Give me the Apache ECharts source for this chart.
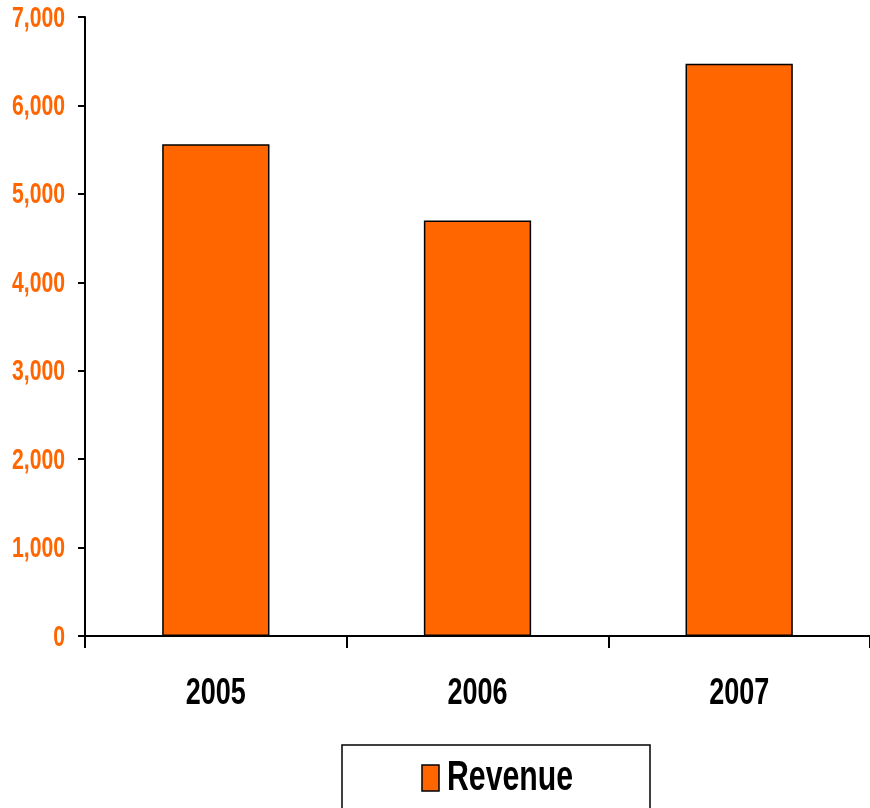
<!DOCTYPE html>
<html>
<head>
<meta charset="utf-8">
<script src="https://cdn.jsdelivr.net/npm/echarts@6/dist/echarts.min.js"></script>
<style>html,body{margin:0;padding:0;background:#fff;}#c{width:870px;height:808px;}</style>
</head>
<body>
<div id="c"></div>
<script>
var categories = ['2005', '2006', '2007'];
var revenue = [5560, 4700, 6470];
var yTicks = [0, 1000, 2000, 3000, 4000, 5000, 6000, 7000];
var seriesName = 'Revenue';

var FONT = '"Liberation Sans", Arial, sans-serif';
var GRID = {left: 85, right: 0, top: 17, bottom: 172, outerBoundsMode: 'none', containLabel: false};
var chart = echarts.init(document.getElementById('c'));
chart.setOption({
  animation: false,
  backgroundColor: '#fff',
  grid: GRID,
  xAxis: {
    type: 'category',
    data: categories,
    axisLine: {lineStyle: {color: '#000', width: 2}},
    axisTick: {show: true, length: 12, alignWithLabel: false, lineStyle: {color: '#000', width: 2}},
    axisLabel: {show: false}
  },
  yAxis: {
    type: 'value',
    min: yTicks[0],
    max: yTicks[yTicks.length - 1],
    interval: 1000,
    axisLine: {show: true, lineStyle: {color: '#000', width: 2}},
    axisTick: {show: true, length: 7, lineStyle: {color: '#000', width: 2}},
    splitLine: {show: false},
    axisLabel: {show: false}
  },
  series: [{
    name: seriesName,
    type: 'bar',
    data: revenue,
    barWidth: '41%',
    itemStyle: {color: '#FF6600', borderColor: '#000', borderWidth: 1.5}
  }]
});

// Condensed (narrow) bold labels, positioned through the chart's own scales.
var fmt = function (v) { return v.toLocaleString('en-US'); };
var g = [];
var axisX = chart.convertToPixel({xAxisIndex: 0}, 0) - (chart.convertToPixel({xAxisIndex: 0}, 1) - chart.convertToPixel({xAxisIndex: 0}, 0)) / 2;
var axisY = chart.convertToPixel({yAxisIndex: 0}, 0);
yTicks.forEach(function (v) {
  g.push({
    type: 'text', x: axisX - 20, y: chart.convertToPixel({yAxisIndex: 0}, v) + 1.5,
    scaleX: 0.73, silent: true,
    style: {text: fmt(v), font: 'bold 29px ' + FONT, fill: '#FF6600', align: 'right', verticalAlign: 'middle'}
  });
});
categories.forEach(function (c, i) {
  g.push({
    type: 'text', x: chart.convertToPixel({xAxisIndex: 0}, i), y: axisY + 58,
    scaleX: 0.75, silent: true,
    style: {text: c, font: 'bold 36px ' + FONT, fill: '#000', align: 'center', verticalAlign: 'middle'}
  });
});
// legend box
g.push({type: 'rect', shape: {x: 342, y: 745, width: 308, height: 80}, style: {fill: '#fff', stroke: '#000', lineWidth: 1.5}, z: 0});
g.push({type: 'rect', shape: {x: 422, y: 765, width: 17, height: 26}, style: {fill: '#FF6600', stroke: '#000', lineWidth: 1.5}, z: 1});
g.push({
  type: 'text', x: 447, y: 778, scaleX: 0.72, silent: true, z: 1,
  style: {text: seriesName, font: 'bold 42px ' + FONT, fill: '#000', align: 'left', verticalAlign: 'middle'}
});
chart.setOption({graphic: g});
</script>
</body>
</html>
